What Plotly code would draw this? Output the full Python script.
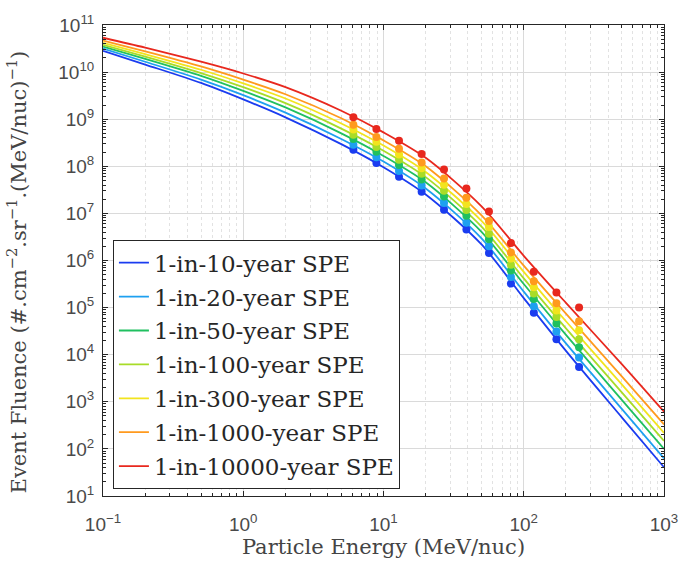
import plotly.graph_objects as go

# ---------------- data ----------------
series_names = [
    "1-in-10-year SPE", "1-in-20-year SPE", "1-in-50-year SPE",
    "1-in-100-year SPE", "1-in-300-year SPE", "1-in-1000-year SPE",
    "1-in-10000-year SPE",
]
series_colors = ["#1a3cf0", "#1ea0f0", "#20c060", "#a8dc28",
                 "#f2e41e", "#ff9a1e", "#e8281e"]

# fitted spectra: energies (MeV/nuc) and log10 fluence
curve_energy = [0.1, 0.2, 0.5, 1, 2, 5, 10, 20, 50, 100, 200, 500, 1000]
curve_log10 = {
    "1-in-10-year SPE":    [10.45, 10.16, 9.77, 9.42, 9.04, 8.47, 7.98, 7.40, 6.34, 5.20, 4.08, 2.67, 1.61],
    "1-in-20-year SPE":    [10.50, 10.22, 9.84, 9.51, 9.14, 8.58, 8.10, 7.53, 6.47, 5.34, 4.24, 2.85, 1.80],
    "1-in-50-year SPE":    [10.54, 10.28, 9.92, 9.60, 9.25, 8.70, 8.22, 7.66, 6.61, 5.50, 4.42, 3.04, 2.00],
    "1-in-100-year SPE":   [10.58, 10.33, 9.98, 9.68, 9.34, 8.80, 8.33, 7.77, 6.72, 5.62, 4.56, 3.20, 2.17],
    "1-in-300-year SPE":   [10.62, 10.38, 10.05, 9.76, 9.44, 8.91, 8.44, 7.88, 6.84, 5.76, 4.71, 3.37, 2.34],
    "1-in-1000-year SPE":  [10.67, 10.44, 10.12, 9.84, 9.53, 9.02, 8.55, 8.00, 6.96, 5.89, 4.87, 3.54, 2.52],
    "1-in-10000-year SPE": [10.73, 10.52, 10.22, 9.97, 9.68, 9.18, 8.72, 8.18, 7.15, 6.10, 5.10, 3.80, 2.79],
}

# data points (markers)
point_energy = [6.1, 8.9, 12.9, 18.7, 27.0, 39.0, 56.5, 81.0, 118, 171, 248]
point_log10 = {
    "1-in-10-year SPE":    [8.35, 8.07, 7.78, 7.46, 7.08, 6.66, 6.16, 5.51, 4.89, 4.33, 3.74],
    "1-in-20-year SPE":    [8.46, 8.19, 7.90, 7.59, 7.22, 6.80, 6.30, 5.65, 5.03, 4.49, 3.94],
    "1-in-50-year SPE":    [8.58, 8.31, 8.03, 7.72, 7.36, 6.95, 6.45, 5.79, 5.18, 4.66, 4.16],
    "1-in-100-year SPE":   [8.67, 8.41, 8.14, 7.84, 7.48, 7.07, 6.57, 5.91, 5.30, 4.80, 4.33],
    "1-in-300-year SPE":   [8.78, 8.52, 8.25, 7.96, 7.61, 7.20, 6.71, 6.04, 5.43, 4.94, 4.52],
    "1-in-1000-year SPE":  [8.88, 8.62, 8.37, 8.08, 7.74, 7.33, 6.84, 6.17, 5.56, 5.09, 4.71],
    "1-in-10000-year SPE": [9.04, 8.79, 8.54, 8.26, 7.93, 7.53, 7.04, 6.37, 5.76, 5.32, 5.00],
}

x_tick_exponents = [-1, 0, 1, 2, 3]
y_tick_exponents = [1, 2, 3, 4, 5, 6, 7, 8, 9, 10, 11]

x_title = "Particle Energy (MeV/nuc)"
y_title = "Event Fluence (#.cm<sup>\u22122</sup>.sr<sup>\u22121</sup>.(MeV/nuc)<sup>\u22121</sup>)"

# ---------------- figure ----------------
fig = go.Figure()

for name, col in zip(series_names, series_colors):
    fig.add_trace(go.Scatter(
        x=curve_energy, y=[10 ** v for v in curve_log10[name]],
        mode="lines", name=name, legendgroup=name,
        line=dict(color=col, width=1.8, shape="spline", smoothing=0.8),
    ))

for name, col in zip(series_names, series_colors):
    fig.add_trace(go.Scatter(
        x=point_energy, y=[10 ** v for v in point_log10[name]],
        mode="markers", name=name, legendgroup=name, showlegend=False,
        marker=dict(color=col, size=8, symbol="circle", line=dict(width=0)),
    ))


def power_labels(exps):
    return [f"10<sup>{e}</sup>".replace("-", "\u2212") for e in exps]


def minor_positions(exps):
    return [m * 10.0 ** e for e in exps[:-1] for m in range(2, 10)]


axis_common = dict(
    type="log", showline=True, linecolor="#262626", linewidth=1, mirror="allticks",
    ticks="inside", ticklen=5, tickcolor="#262626",
    tickfont=dict(family="Liberation Sans", size=19, color="#4a4a4a"),
    gridcolor="#dadada", gridwidth=1, zeroline=False,
)

fig.update_xaxes(
    **axis_common, range=[-1, 3],
    tickvals=[10.0 ** e for e in x_tick_exponents], ticktext=power_labels(x_tick_exponents),
    ticklabelstandoff=11,
    minor=dict(tickmode="array", tickvals=minor_positions(x_tick_exponents),
               ticks="inside", ticklen=3, tickcolor="#262626", showgrid=True,
               gridcolor="#e2e2e2", griddash="dot"),
    title=dict(text=x_title, font=dict(family="DejaVu Serif", size=21, color="#444444"),
               standoff=5),
)
fig.update_yaxes(
    **axis_common, range=[1, 11],
    tickvals=[10.0 ** e for e in y_tick_exponents], ticktext=power_labels(y_tick_exponents),
    ticklabelstandoff=4,
    minor=dict(tickmode="array", tickvals=minor_positions(y_tick_exponents),
               ticks="inside", ticklen=3, tickcolor="#262626", showgrid=False),
)

fig.add_annotation(
    text=y_title, xref="paper", yref="paper", x=-0.153, y=0.475,
    textangle=-90, showarrow=False, xanchor="center", yanchor="middle",
    font=dict(family="DejaVu Serif", size=21, color="#444444"),
)

fig.update_layout(
    width=690, height=566,
    margin=dict(l=103, r=23, t=22, b=69),
    paper_bgcolor="white", plot_bgcolor="white",
    showlegend=True,
    legend=dict(
        x=0.0177, y=0.543, xanchor="left", yanchor="top",
        bgcolor="white", bordercolor="#262626", borderwidth=1,
        font=dict(family="DejaVu Serif", size=23, color="#262626"),
        tracegroupgap=1, traceorder="grouped",
    ),
)

fig.write_html("out.html")
